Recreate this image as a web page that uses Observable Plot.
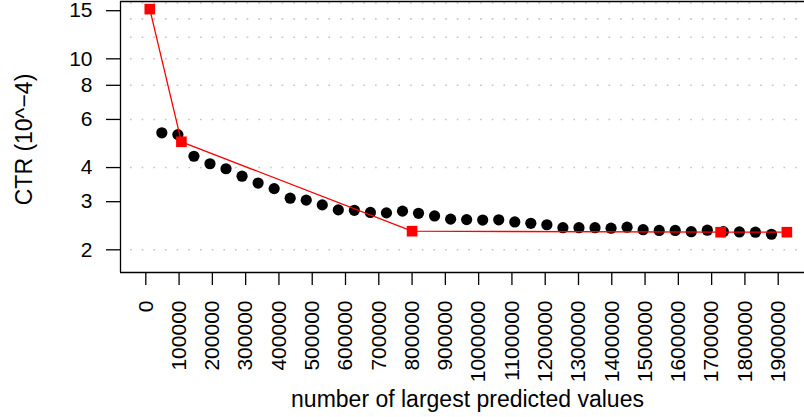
<!DOCTYPE html>
<html><head><meta charset="utf-8">
<script src="https://cdn.jsdelivr.net/npm/d3@7"></script>
<script src="https://cdn.jsdelivr.net/npm/@observablehq/plot@0.6"></script>
<style>html,body{margin:0;padding:0;background:#fff} svg{display:block}</style>
</head><body><div id="chart"></div>
<script>
// Black dots: number of largest predicted values vs CTR (10^-4)
const dotN = [48200, 96400, 144600, 192800, 241000, 289200, 337400, 385600, 433800, 482000,
  530200, 578400, 626600, 674800, 723000, 771200, 819400, 867600, 915800, 964000,
  1012200, 1060400, 1108600, 1156800, 1205000, 1253200, 1301400, 1349600, 1397800, 1446000,
  1494200, 1542400, 1590600, 1638800, 1687000, 1735200, 1783400, 1831600, 1879800];
const dotCTR = [5.36, 5.28, 4.40, 4.13, 3.96, 3.72, 3.51, 3.35, 3.09, 3.04,
  2.92, 2.80, 2.79, 2.74, 2.73, 2.77, 2.72, 2.66, 2.59, 2.58,
  2.57, 2.575, 2.53, 2.50, 2.47, 2.41, 2.41, 2.41, 2.40, 2.42,
  2.37, 2.355, 2.355, 2.33, 2.36, 2.33, 2.325, 2.32, 2.28];
// Red squares with connecting line
const redN = [12000, 107000, 800000, 1727000, 1926000];
const redCTR = [15.2, 4.97, 2.34, 2.32, 2.32];
// Axes
const xTicks = [0, 100000, 200000, 300000, 400000, 500000, 600000, 700000, 800000, 900000,
  1000000, 1100000, 1200000, 1300000, 1400000, 1500000, 1600000, 1700000, 1800000, 1900000];
const yTicks = [2, 3, 4, 6, 8, 10, 15];
const yGrid = [2, 4, 6, 8, 10, 12, 14, 16];
const xDomain = [-76000, 1979000];
const yDomain = [1.652, 16.21];
const xLabel = "number of largest predicted values";
const yLabel = "CTR (10^\u22124)";

const dots = dotN.map((n, i) => ({n, ctr: dotCTR[i]}));
const reds = redN.map((n, i) => ({n, ctr: redCTR[i]}));

const font = "'Liberation Sans', Arial, Helvetica, sans-serif";
const chart = Plot.plot({
  width: 804, height: 417,
  marginLeft: 120, marginRight: 0, marginTop: 1, marginBottom: 145,
  style: {fontFamily: font, fontSize: "21px", background: "#fff", color: "#000", overflow: "visible"},
  x: {domain: xDomain},
  y: {type: "log", domain: yDomain},
  marks: [
    Plot.ruleY(yGrid, {stroke: "#c4c4c4", strokeWidth: 1.6, strokeDasharray: "1.6,10.07", strokeDashoffset: -10}),
    Plot.ruleX([xDomain[0]], {stroke: "#000", strokeWidth: 1.3}),
    Plot.ruleY(yDomain, {stroke: "#000", strokeWidth: 1.3}),
    Plot.axisX(xTicks, {tickSize: 13, tickPadding: 15, tickRotate: -90, fontSize: 21, strokeWidth: 1.3, label: null, tickFormat: d => String(d)}),
    Plot.axisY(yTicks, {tickSize: 14, tickPadding: 14, fontSize: 21, strokeWidth: 1.3, label: null, tickFormat: d => String(d)}),
    Plot.dot(dots, {x: "n", y: "ctr", fill: "#000", r: 5.6}),
    Plot.line(reds, {x: "n", y: "ctr", stroke: "#ff0000", strokeWidth: 1.3}),
    Plot.dot(reds, {x: "n", y: "ctr", symbol: "square", fill: "#ff0000", r: 6}),
    Plot.text([xLabel], {frameAnchor: "bottom", textAnchor: "middle", lineAnchor: "bottom", dy: 134, dx: 5, fontSize: 23}),
    Plot.text([yLabel], {frameAnchor: "left", textAnchor: "middle", rotate: -90, lineAnchor: "bottom", dx: -89, dy: 2.5, fontSize: 23})
  ]
});
document.getElementById("chart").appendChild(chart);
</script>
</body></html>
